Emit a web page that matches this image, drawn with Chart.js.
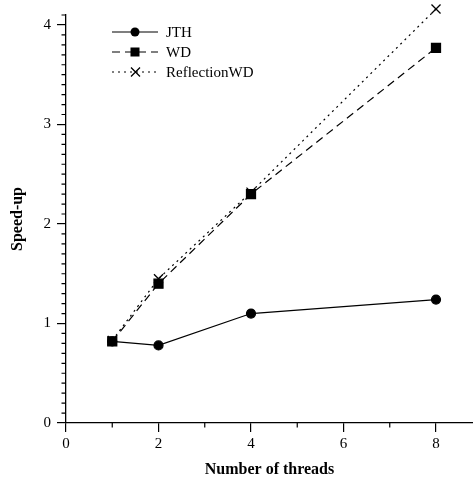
<!DOCTYPE html>
<html>
<head>
<meta charset="utf-8">
<script src="https://cdn.jsdelivr.net/npm/chart.js@4"></script>
<style>
  html, body { margin: 0; padding: 0; background: #fff; }
  #wrap { width: 473px; height: 481px; }
</style>
</head>
<body>
<div id="wrap"><canvas id="myChart" width="473" height="481"></canvas></div>
<script>
// data
const threads = [1, 2, 4, 8];
const jth = [0.82, 0.78, 1.10, 1.24];
const wd = [0.82, 1.40, 2.30, 3.77];
const reflectionWd = [0.83, 1.45, 2.32, 4.16];
const xTicks = [0, 2, 4, 6, 8];
const yTicks = [0, 1, 2, 3, 4];

const FONT = "'Liberation Serif', 'DejaVu Serif', serif";

const toPoints = (xs, ys) => xs.map((x, i) => ({x: x, y: ys[i]}));

// short minor ticks on both axes
const minorTicks = {
    id: 'minorTicks',
    afterDraw(chart) {
        const ctx = chart.ctx;
        const x = chart.scales.x, y = chart.scales.y;
        ctx.save();
        ctx.strokeStyle = '#000';
        ctx.lineWidth = 1.2;
        ctx.beginPath();
        for (let v = 1; v < 8.8; v += 2) {
            const px = x.getPixelForValue(v);
            ctx.moveTo(px, x.top);
            ctx.lineTo(px, x.top + 4.5);
        }
        for (let i = 1; i <= 41; i++) {
            if (i % 10 === 0) continue;
            const py = y.getPixelForValue(i / 10);
            ctx.moveTo(y.right, py);
            ctx.lineTo(y.right - 4.5, py);
        }
        ctx.stroke();
        ctx.restore();
    }
};

// legend box in the upper left, line + marker + label
const lineLegend = {
    id: 'lineLegend',
    afterDraw(chart) {
        const ctx = chart.ctx;
        ctx.save();
        chart.data.datasets.forEach((ds, i) => {
            const yy = 32 + i * 20;
            ctx.strokeStyle = '#000';
            ctx.lineWidth = 1.2;
            ctx.setLineDash(ds.borderDash || []);
            ctx.beginPath();
            ctx.moveTo(112, yy);
            ctx.lineTo(158, yy);
            ctx.stroke();
            ctx.setLineDash([]);
            ctx.fillStyle = '#000';
            ctx.beginPath();
            if (ds.pointStyle === 'circle') {
                ctx.arc(135, yy, 4.5, 0, Math.PI * 2);
                ctx.fill();
            } else if (ds.pointStyle === 'rect') {
                ctx.fillRect(135 - 4.5, yy - 4.5, 9, 9);
            } else {
                ctx.lineWidth = 1.3;
                ctx.moveTo(131, yy - 4.5); ctx.lineTo(140, yy + 4.5);
                ctx.moveTo(140, yy - 4.5); ctx.lineTo(131, yy + 4.5);
                ctx.stroke();
            }
            ctx.font = '15px ' + FONT;
            ctx.textBaseline = 'middle';
            ctx.fillText(ds.label, 166, yy + 1);
        });
        ctx.restore();
    }
};

const ctx = document.getElementById('myChart').getContext('2d');
const myChart = new Chart(ctx, {
    type: 'line',
    data: {
        datasets: [{
            label: 'JTH',
            data: toPoints(threads, jth),
            borderColor: '#000',
            backgroundColor: '#000',
            borderWidth: 1.2,
            pointStyle: 'circle',
            pointRadius: 4.5,
            order: 1
        }, {
            label: 'WD',
            data: toPoints(threads, wd),
            borderColor: '#000',
            backgroundColor: '#000',
            borderWidth: 1.2,
            borderDash: [8, 5],
            pointStyle: 'rect',
            pointRadius: 6.4,
            order: 0
        }, {
            label: 'ReflectionWD',
            data: toPoints(threads, reflectionWd),
            borderColor: '#000',
            backgroundColor: '#000',
            borderWidth: 1.2,
            borderDash: [2, 4],
            pointStyle: 'crossRot',
            pointRadius: 6.4,
            pointBorderWidth: 1.3,
            order: 2
        }]
    },
    options: {
        responsive: false,
        animation: false,
        clip: false,
        layout: { autoPadding: false, padding: { top: 15, right: 0, left: 0, bottom: 0 } },
        plugins: {
            legend: { display: false },
            tooltip: { enabled: false }
        },
        scales: {
            x: {
                type: 'linear',
                min: 0,
                max: 8.8,
                afterBuildTicks: (scale) => { scale.ticks = xTicks.map(v => ({value: v})); },
                afterFit: (scale) => {
                    scale.height = 58;
                    scale.paddingRight = 0;
                    scale.paddingLeft = 0;
                },
                grid: { drawOnChartArea: false, tickLength: 9, color: '#000', lineWidth: 1.2 },
                border: { color: '#000', width: 1.3 },
                ticks: { color: '#000', font: { family: FONT, size: 15 }, padding: 3, maxRotation: 0 },
                title: {
                    display: true,
                    text: 'Number of threads',
                    color: '#000',
                    font: { family: FONT, size: 16, weight: 'bold' },
                    padding: { top: 0, bottom: 2 }
                }
            },
            y: {
                type: 'linear',
                min: 0,
                max: 4.1,
                afterBuildTicks: (scale) => { scale.ticks = yTicks.map(v => ({value: v})); },
                afterFit: (scale) => { scale.width = 66; },
                grid: { drawOnChartArea: false, tickLength: 9, color: '#000', lineWidth: 1.2 },
                border: { color: '#000', width: 1.3 },
                ticks: { color: '#000', font: { family: FONT, size: 15 }, padding: 6 },
                title: {
                    display: true,
                    text: 'Speed-up',
                    color: '#000',
                    font: { family: FONT, size: 16, weight: 'bold' },
                    padding: { top: 8, bottom: 0 }
                }
            }
        }
    },
    plugins: [minorTicks, lineLegend]
});
</script>
</body>
</html>
